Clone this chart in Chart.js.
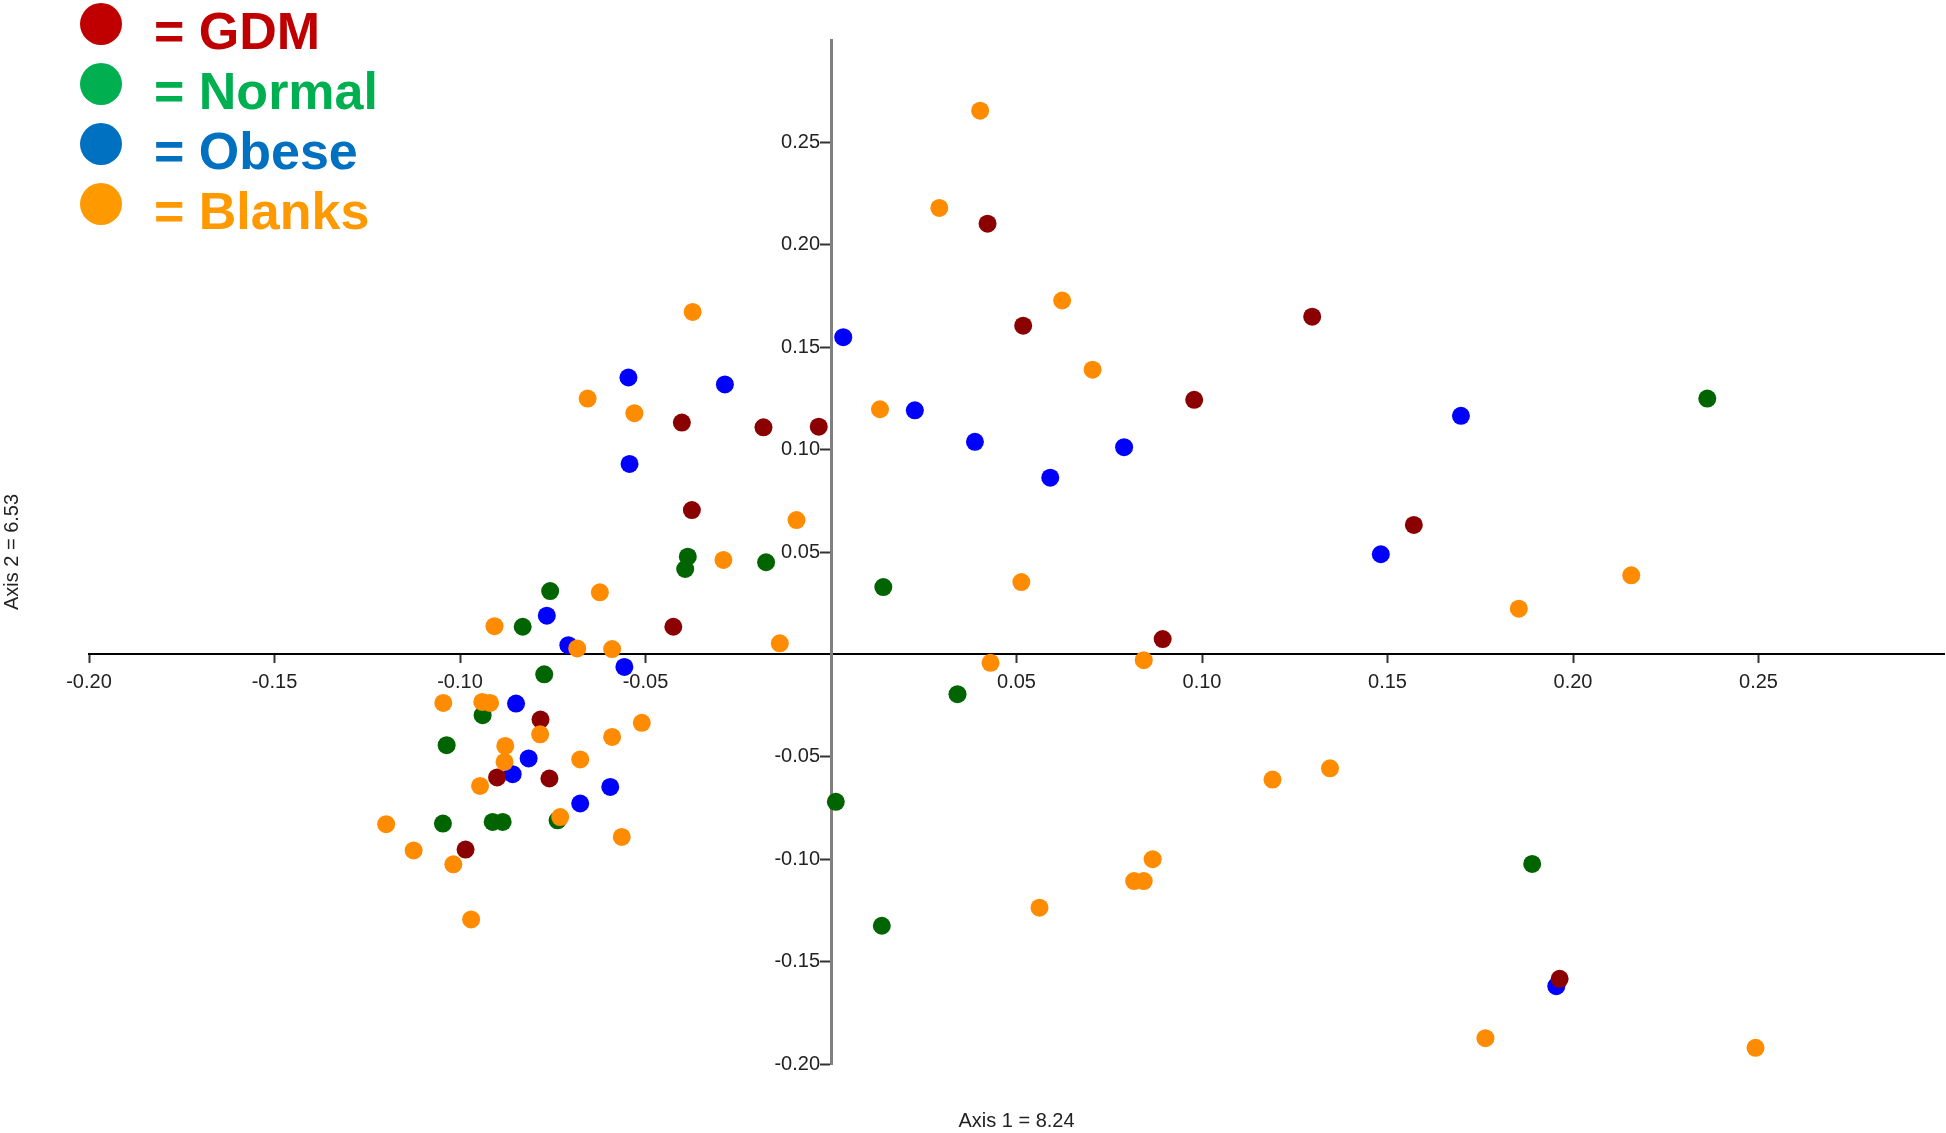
<!DOCTYPE html>
<html>
<head>
<meta charset="utf-8">
<script src="https://cdn.jsdelivr.net/npm/chart.js@4"></script>
<style>
  body { margin: 0; background: #fff; }
  #wrap { position: relative; width: 1946px; height: 1133px; }
  #legend { position: absolute; left: 80px; top: 0; font-family: "Liberation Sans", Arial, sans-serif; }
  #legend .row { display: flex; align-items: center; height: 60px; }
  #legend .dot { width: 42px; height: 42px; border-radius: 50%; transform: translateY(-6px); }
  #legend .txt { margin-left: 32px; font-size: 52px; font-weight: bold; white-space: pre; position: relative; top: 1px; }
</style>
</head>
<body>
<div id="wrap">
  <canvas id="pcoa" width="1946" height="1133"></canvas>
  <div id="legend"></div>
</div>
<script>
// PCoA scores
const gdmX = [-0.0402, -0.0182, -0.0033, -0.0375, -0.0425, -0.0783, -0.0900, -0.0759, -0.0985, 0.0422, 0.0518, 0.0979, 0.1297, 0.1571, 0.0894, 0.1964];
const gdmY = [0.1132, 0.1109, 0.1112, 0.0705, 0.0135, -0.0318, -0.0601, -0.0606, -0.0953, 0.2103, 0.1605, 0.1243, 0.1649, 0.0632, 0.0075, -0.1584];

const normalX = [-0.0386, -0.0393, -0.0175, -0.0757, -0.0831, -0.0773, -0.0939, -0.1036, -0.0737, -0.1046, -0.0912, -0.0885, 0.0141, 0.0341, 0.0013, 0.0137, 0.1890, 0.2362];
const normalY = [0.0477, 0.0417, 0.0450, 0.0309, 0.0135, -0.0097, -0.0297, -0.0443, -0.0810, -0.0826, -0.0818, -0.0818, 0.0329, -0.0194, -0.0720, -0.1325, -0.1023, 0.1249];

const obeseX = [0.0033, -0.0546, -0.0286, -0.0543, -0.0766, -0.0708, -0.0557, -0.0849, -0.0815, -0.0858, -0.0595, -0.0676, 0.0226, 0.0388, 0.0790, 0.0591, 0.1698, 0.1482, 0.1955];
const obeseY = [0.1549, 0.1352, 0.1318, 0.0930, 0.0189, 0.0045, -0.0061, -0.0240, -0.0508, -0.0585, -0.0647, -0.0728, 0.1192, 0.1038, 0.1012, 0.0863, 0.1165, 0.0489, -0.1620];

const blanksX = [-0.0373, -0.0656, -0.0530, -0.0093, -0.0290, -0.0623, -0.0907, -0.0138, -0.0684, -0.0590, -0.1045, -0.0940, -0.0919, -0.0784, -0.0878, -0.0880, -0.0946, -0.0510, -0.0590, -0.0676, -0.0730, -0.1199, -0.0564, -0.1125, -0.1018, -0.0970, 0.0402, 0.0292, 0.0623, 0.0705, 0.0132, 0.0513, 0.2157, 0.1854, 0.0430, 0.0843, 0.1190, 0.1345, 0.0867, 0.0817, 0.0843, 0.0562, 0.1764, 0.2492];
const blanksY = [0.1672, 0.1249, 0.1178, 0.0656, 0.0461, 0.0303, 0.0138, 0.0054, 0.0029, 0.0026, -0.0237, -0.0232, -0.0237, -0.0390, -0.0447, -0.0525, -0.0642, -0.0334, -0.0403, -0.0513, -0.0794, -0.0829, -0.0891, -0.0957, -0.1025, -0.1294, 0.2655, 0.2180, 0.1728, 0.1390, 0.1197, 0.0353, 0.0386, 0.0223, -0.0041, -0.0028, -0.0611, -0.0556, -0.1000, -0.1107, -0.1107, -0.1237, -0.1874, -0.1921];

const groups = ['GDM', 'Normal', 'Obese', 'Blanks'];
const axisMin = -0.2;
const axisMax = 0.3;
const axisStep = 0.05;

const pointColors = ['#8b0000', '#006400', '#0000ff', '#ff8c00'];
const legendColors = ['#c00000', '#00b050', '#0070c0', '#ff9900'];
const FONT = '"Liberation Sans", Arial, sans-serif';

function toPoints(xs, ys) {
  return xs.map((x, i) => ({ x: x, y: ys[i] }));
}

// tick label: two decimals, no label at the origin or the top/right end
function tickLabel(value) {
  if (Math.abs(value) < 1e-9 || value > axisMax - 1e-9) return '';
  return value.toFixed(2);
}
function tickColor(ctx) {
  const v = ctx.tick ? ctx.tick.value : 0;
  return (Math.abs(v) < 1e-9 || v > axisMax - 1e-9) ? 'rgba(0,0,0,0)' : '#333';
}

// html legend, big dots + coloured text
const htmlLegend = {
  id: 'htmlLegend',
  afterUpdate(chart) {
    const box = document.getElementById('legend');
    box.innerHTML = '';
    chart.data.datasets.forEach((ds, i) => {
      const row = document.createElement('div');
      row.className = 'row';
      const dot = document.createElement('span');
      dot.className = 'dot';
      dot.style.background = legendColors[i];
      const txt = document.createElement('span');
      txt.className = 'txt';
      txt.style.color = legendColors[i];
      txt.textContent = '= ' + ds.label;
      row.appendChild(dot);
      row.appendChild(txt);
      box.appendChild(row);
    });
  },
};

// axes crossing at 0: chart.js puts the labels right on the axis line,
// so push them off a bit (y labels left, x labels down)
const nudgeLabels = {
  id: 'nudgeLabels',
  beforeDraw(chart) {
    const moves = { x: [0, 8], y: [-11, 0] };
    Object.keys(moves).forEach((id) => {
      chart.scales[id].getLabelItems().forEach((item) => {
        if (item._nudged) return;
        item.options.translation[0] += moves[id][0];
        item.options.translation[1] += moves[id][1];
        item._nudged = true;
      });
    });
  },
};

const sets = [
  toPoints(gdmX, gdmY),
  toPoints(normalX, normalY),
  toPoints(obeseX, obeseY),
  toPoints(blanksX, blanksY),
];
const drawOrder = [1, 2, 3, 0]; // blanks on top, obese at the bottom

new Chart(document.getElementById('pcoa'), {
  type: 'scatter',
  data: {
    datasets: groups.map((g, i) => ({
      label: g,
      data: sets[i],
      backgroundColor: pointColors[i],
      borderColor: pointColors[i],
      borderWidth: 0,
      pointRadius: 9,
      pointHoverRadius: 9,
      order: drawOrder[i],
    })),
  },
  plugins: [htmlLegend, nudgeLabels],
  options: {
    responsive: false,
    animation: false,
    layout: { autoPadding: false, padding: { top: 40, right: 2, left: 0, bottom: 0 } },
    plugins: {
      legend: { display: false },
      tooltip: { enabled: false },
      title: {
        display: true,
        position: 'bottom',
        fullSize: false,
        text: 'Axis 1 = 8.24',
        color: '#222',
        font: { family: FONT, size: 20, weight: 'normal' },
        padding: { top: 45, bottom: 0 },
      },
      subtitle: {
        display: true,
        position: 'left',
        fullSize: false,
        text: 'Axis 2 = 6.53',
        color: '#222',
        font: { family: FONT, size: 20, weight: 'normal' },
        padding: { top: 0, bottom: 65 },
      },
    },
    scales: {
      x: {
        type: 'linear',
        position: { y: 0 },
        min: axisMin,
        max: axisMax,
        border: { color: '#000', width: 2 },
        grid: { drawOnChartArea: false, drawTicks: true, tickLength: 8, tickWidth: 2, tickColor: tickColor },
        ticks: {
          stepSize: axisStep,
          autoSkip: false,
          maxRotation: 0,
          padding: 0,
          color: '#222',
          font: { family: FONT, size: 20 },
          callback: tickLabel,
        },
      },
      y: {
        type: 'linear',
        position: { x: 0 },
        min: axisMin,
        max: axisMax,
        border: { color: '#808080', width: 3 },
        grid: { drawOnChartArea: false, drawTicks: true, tickLength: 10, tickWidth: 2, tickColor: tickColor },
        ticks: {
          stepSize: axisStep,
          autoSkip: false,
          padding: 4,
          color: '#222',
          font: { family: FONT, size: 20 },
          callback: tickLabel,
        },
      },
    },
  },
});
</script>
</body>
</html>
